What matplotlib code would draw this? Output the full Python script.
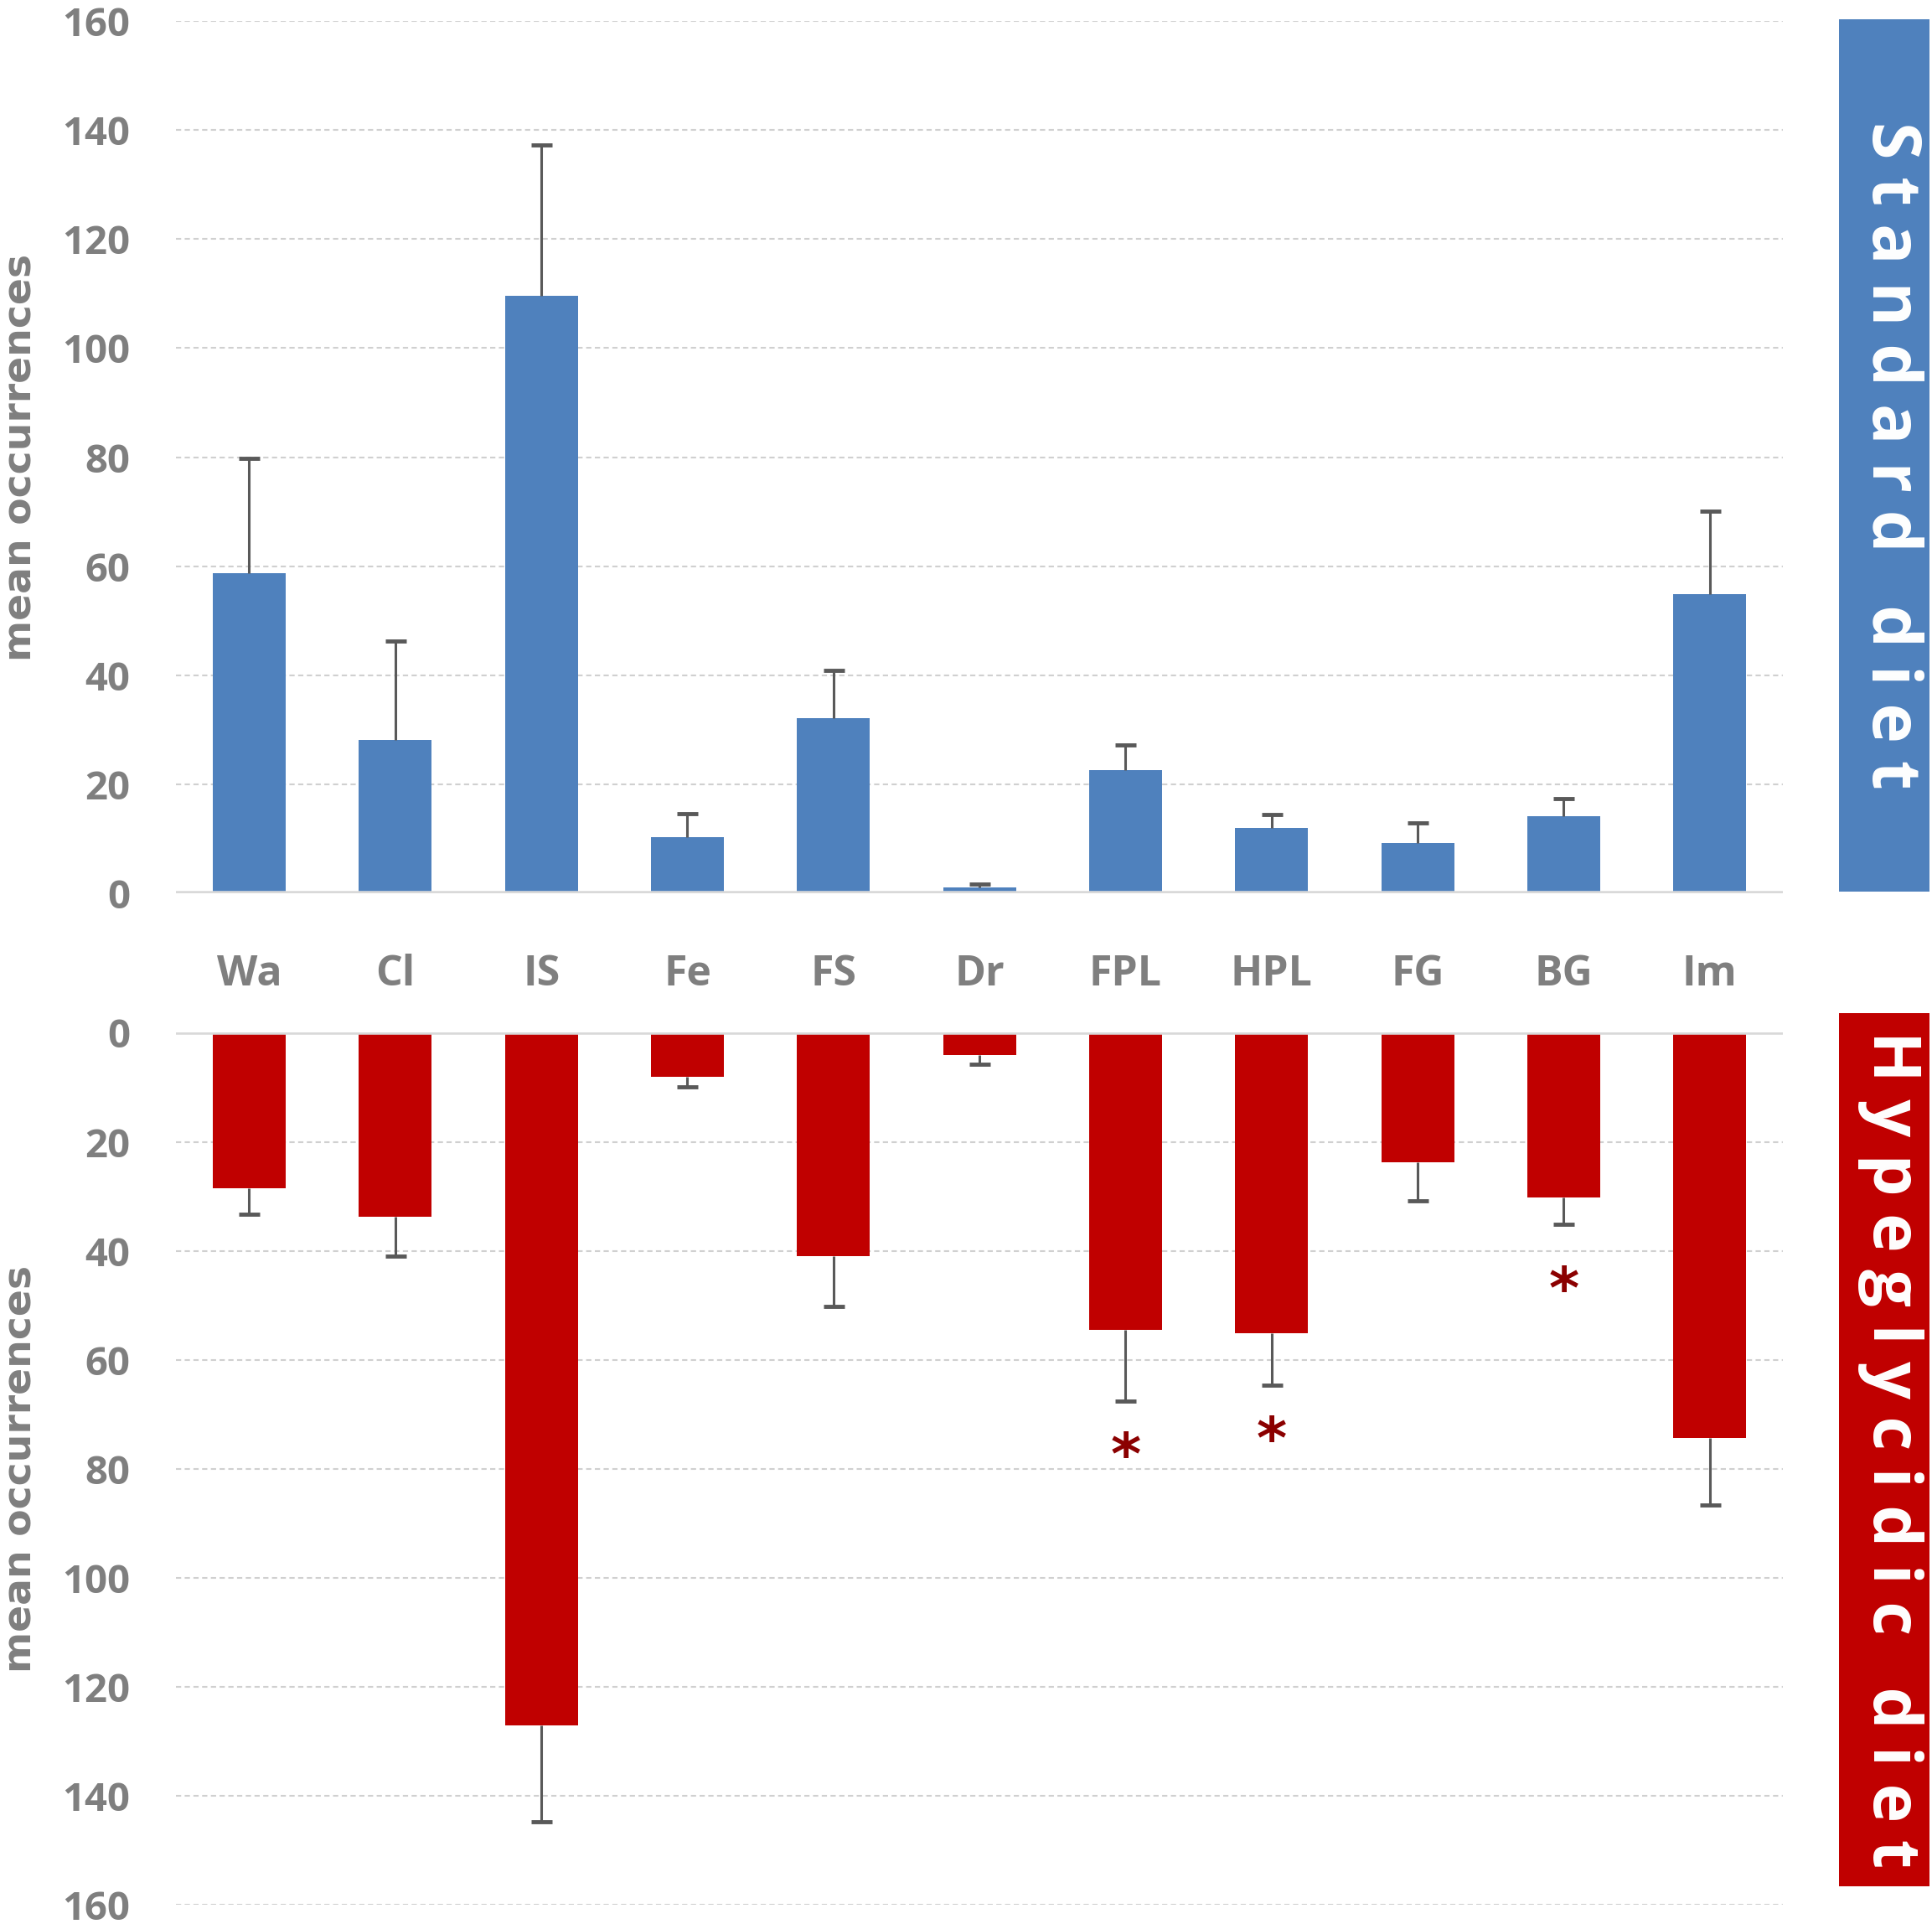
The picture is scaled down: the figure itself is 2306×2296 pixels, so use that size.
import matplotlib
matplotlib.use("Agg")
import matplotlib.pyplot as plt
import numpy as np
from matplotlib.patches import Rectangle

categories = ["Wa", "Cl", "IS", "Fe", "FS", "Dr", "FPL", "HPL", "FG", "BG", "Im"]
standard_mean = [58.8, 28.2, 109.6, 10.4, 32.1, 1.1, 22.6, 12.0, 9.3, 14.2, 54.9]
standard_err = [21.0, 18.1, 27.6, 4.3, 8.8, 0.7, 4.7, 2.5, 3.6, 3.2, 15.2]
hyper_mean = [28.5, 33.7, 127.1, 8.1, 41.0, 4.1, 54.5, 55.2, 23.8, 30.3, 74.4]
hyper_err = [4.8, 7.3, 17.7, 1.9, 9.2, 1.6, 13.1, 9.5, 7.0, 4.8, 12.3]
star_cats = ["FPL", "HPL", "BG"]
star_pos = [78.0, 75.0, 47.5]
yticks = [0, 20, 40, 60, 80, 100, 120, 140, 160]

BLUE = "#4F81BD"
RED = "#C00000"
GRAY = "#7F7F7F"
ERR = "#595959"

W, H = 2306, 2296
fig = plt.figure(figsize=(W / 100, H / 100), dpi=100)

tick_font = ["Liberation Sans Narrow", "Open Sans", "DejaVu Sans"]

ax_top = fig.add_axes([0.0912, 0.5356, 0.8316, 0.4535])
ax_bot = fig.add_axes([0.0912, 0.0102, 0.8316, 0.4530])

x = np.arange(len(categories))

def style(ax, inverted):
    ax.set_xlim(-0.5, len(categories) - 0.5)
    ax.set_ylim(0, 160)
    if inverted:
        ax.invert_yaxis()
    ax.set_yticks(yticks)
    ax.set_yticklabels([str(t) for t in yticks])
    for lbl in ax.get_yticklabels():
        lbl.set_fontfamily(tick_font)
        lbl.set_fontweight("bold")
        lbl.set_fontsize(34)
        lbl.set_color(GRAY)
    ax.tick_params(axis="y", length=0, pad=40)
    ax.set_xticks([])
    for s in ax.spines.values():
        s.set_visible(False)
    ax.set_axisbelow(True)
    for t in yticks[1:]:
        ax.axhline(t, color="#D0D0D0", lw=1.5, ls=(0, (3, 2)), zorder=0)
    ax.axhline(0, color="#D9D9D9", lw=4, zorder=3)

style(ax_top, False)
style(ax_bot, True)

def draw(ax, mean, err, color):
    mean = np.asarray(mean)
    err = np.asarray(err)
    ax.bar(x, mean, width=0.5, color=color, zorder=2)
    ax.errorbar(x, mean, yerr=[np.zeros(len(x)), err], fmt="none",
                ecolor=ERR, elinewidth=2.2, capsize=0, zorder=2.5)
    ax.plot(x, mean + err, ls="none", marker="_", markersize=18,
            markeredgewidth=3.5, color=ERR, zorder=2.6)

draw(ax_top, standard_mean, standard_err, BLUE)
draw(ax_bot, hyper_mean, hyper_err, RED)

for c, p in zip(star_cats, star_pos):
    i = categories.index(c)
    ax_bot.text(i, p, "*", ha="center", va="center", fontsize=50, fontweight="bold",
                color="#8B0000", family="DejaVu Sans")

# y-axis titles
for ax in (ax_top, ax_bot):
    bb = ax.get_position()
    fig.text(0.0108, (bb.y0 + bb.y1) / 2, "mean occurrences", rotation=90,
             ha="center", va="center", fontsize=34, fontweight="bold",
             color=GRAY, family="DejaVu Sans")

# category labels between panels
for i, c in enumerate(categories):
    xf = ax_top.transData.transform((i, 0))[0] / W
    fig.text(xf, 0.4935, c, ha="center", va="center", fontsize=36, fontweight="bold",
             color=GRAY, family=tick_font)

# right side label boxes
fig.patches.append(Rectangle((0.9518, 0.5366), 0.0467, 0.4534, transform=fig.transFigure,
                             facecolor=BLUE, edgecolor="none"))
fig.text(0.9785, 0.7633, "S t a n d a r d   d i e t", rotation=-90, ha="center", va="center",
         fontsize=58, fontweight="bold", color="white", family=tick_font)
fig.patches.append(Rectangle((0.9518, 0.0198), 0.0467, 0.4536, transform=fig.transFigure,
                             facecolor=RED, edgecolor="none"))
fig.text(0.9785, 0.2466, "H y p e g l y c i d i c   d i e t", rotation=-90, ha="center",
         va="center", fontsize=57, fontweight="bold", color="white", family=tick_font)

fig.savefig("out.png", dpi=100)
